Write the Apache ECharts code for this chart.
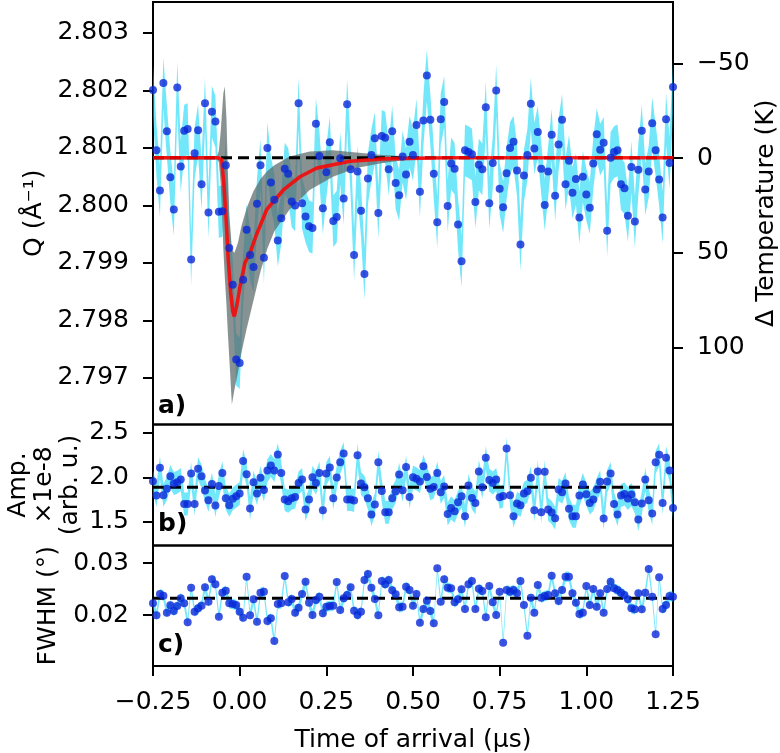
<!DOCTYPE html>
<html lang="en">
<head>
<meta charset="UTF-8">
<title>Peak position, amplitude and width vs time of arrival</title>
<script src="https://cdn.jsdelivr.net/npm/echarts@6/dist/echarts.min.js"></script>
<style>
  html, body { margin: 0; padding: 0; background: #fff; }
  #main { width: 780px; height: 753px; }
</style>
</head>
<body>
<div id="main"></div>
<script>
// time of arrival (µs), one bin every 10 ns
var times = [
  -0.25,-0.24,-0.23,-0.22,-0.21,-0.2,-0.19,-0.18,-0.17,-0.16,
  -0.15,-0.14,-0.13,-0.12,-0.11,-0.1,-0.09,-0.08,-0.07,-0.06,
  -0.05,-0.04,-0.03,-0.02,-0.01,0,0.01,0.02,0.03,0.04,
  0.05,0.06,0.07,0.08,0.09,0.1,0.11,0.12,0.13,0.14,
  0.15,0.16,0.17,0.18,0.19,0.2,0.21,0.22,0.23,0.24,
  0.25,0.26,0.27,0.28,0.29,0.3,0.31,0.32,0.33,0.34,
  0.35,0.36,0.37,0.38,0.39,0.4,0.41,0.42,0.43,0.44,
  0.45,0.46,0.47,0.48,0.49,0.5,0.51,0.52,0.53,0.54,
  0.55,0.56,0.57,0.58,0.59,0.6,0.61,0.62,0.63,0.64,
  0.65,0.66,0.67,0.68,0.69,0.7,0.71,0.72,0.73,0.74,
  0.75,0.76,0.77,0.78,0.79,0.8,0.81,0.82,0.83,0.84,
  0.85,0.86,0.87,0.88,0.89,0.9,0.91,0.92,0.93,0.94,
  0.95,0.96,0.97,0.98,0.99,1,1.01,1.02,1.03,1.04,
  1.05,1.06,1.07,1.08,1.09,1.1,1.11,1.12,1.13,1.14,
  1.15,1.16,1.17,1.18,1.19,1.2,1.21,1.22,1.23,1.24,
  1.25
];

// a) peak position Q (1/Å)
var qValues = [
  2.80201,2.80096,2.80026,2.80213,2.80129,2.80049,2.79993,2.80205,2.80068,2.8013,
  2.80133,2.79906,2.80091,2.80131,2.80037,2.80178,2.79988,2.80163,2.80146,2.79989,
  2.7999,2.8007,2.79926,2.79862,2.79732,2.79726,2.79871,2.79958,2.79914,2.79893,
  2.80003,2.8007,2.79909,2.801,2.8004,2.8001,2.79939,2.79978,2.80064,2.80055,
  2.80007,2.8,2.80178,2.80004,2.79981,2.79964,2.79961,2.80142,2.80086,2.79995,
  2.80058,2.8011,2.79973,2.7998,2.80082,2.80012,2.80176,2.80063,2.79914,2.80059,
  2.79991,2.79881,2.80047,2.80088,2.80117,2.79987,2.80121,2.80118,2.80063,2.80129,
  2.80039,2.80018,2.80085,2.80054,2.80111,2.80088,2.8014,2.80024,2.80148,2.80226,
  2.80149,2.80055,2.79971,2.8015,2.8018,2.79999,2.80073,2.80064,2.79967,2.79903,
  2.80096,2.80093,2.80089,2.80006,2.80071,2.80063,2.80171,2.80004,2.80074,2.802,
  2.80029,2.79997,2.80056,2.801,2.80111,2.80061,2.79932,2.80052,2.80088,2.80177,
  2.80099,2.80128,2.80064,2.80001,2.80059,2.80123,2.80017,2.80106,2.80149,2.80037,
  2.80078,2.80022,2.80046,2.79979,2.8005,2.80019,2.79996,2.80073,2.80124,2.80097,
  2.80109,2.79956,2.80083,2.80093,2.80096,2.80037,2.8003,2.79982,2.80067,2.79972,
  2.80062,2.8013,2.80028,2.80059,2.80143,2.80096,2.80045,2.79979,2.8015,2.80074,
  2.80206
];
var qErr = 0.00045;
var qBaseline = 2.80083;

// fitted curve and its uncertainty band
var fitTimes = [-0.25,-0.062,-0.052,-0.045,-0.039,-0.033,-0.026,-0.02,-0.0155,-0.009,
  0.001,0.015,0.03,0.049,0.078,0.126,0.174,0.222,0.318,0.414,0.49,0.6,1.25];
var fitQ = [2.80083,2.80083,2.8008,2.80033,2.79975,2.79906,2.79848,2.79816,2.79807,2.79824,
  2.79859,2.799,2.79918,2.7995,2.79993,2.80027,2.8005,2.80065,2.80077,2.80081,2.80082,2.80083,2.80083];
var bandTimes = [-0.25,-0.065,-0.06,-0.055,-0.05,-0.047,-0.043,-0.038,-0.034,-0.03,-0.0225,
  -0.015,-0.005,0.005,0.02,0.04,0.06,0.08,0.1,0.144,0.202,0.269,0.336,0.413,0.49,0.56,1.25];
var bandHigh = [2.80086,2.80086,2.80095,2.80126,2.8017,2.80195,2.80207,2.8015,2.8006,2.79987,2.79923,
  2.79918,2.79935,2.79964,2.79995,2.80025,2.80046,2.8006,2.8007,2.80085,2.80094,2.80096,2.80092,2.80088,2.80085,2.80084,2.80084];
var bandLow = [2.8008,2.8008,2.80075,2.8004,2.79975,2.79923,2.79876,2.79826,2.79778,2.79735,2.79654,
  2.7968,2.79709,2.79744,2.79785,2.79835,2.79885,2.79925,2.79955,2.79993,2.80027,2.8005,2.80065,2.80074,2.8008,2.80081,2.80082];

// b) amplitude (x1e-8, arb. u.)
var ampValues = [
  1.955,1.793,2.106,1.797,1.869,2.012,1.929,1.944,1.974,1.699,
  1.699,2.042,1.699,2.095,2.012,1.85,1.74,1.925,1.68,1.902,
  2.049,1.763,1.684,1.756,1.786,1.816,2.185,2.034,1.646,1.944,
  1.816,1.993,1.857,2.076,2.132,2.076,2.256,2.049,1.748,1.729,
  1.763,1.778,1.936,1.974,1.635,1.748,2.0,1.936,2.049,1.627,
  2.042,2.11,1.763,1.997,2.17,2.268,1.748,1.748,1.737,2.249,
  1.929,1.887,1.763,1.579,1.692,2.17,1.846,1.605,1.605,1.763,
  1.838,2.031,1.853,2.117,1.778,2.0,1.982,1.951,2.125,2.004,
  1.869,1.891,2.049,1.831,1.895,1.586,1.654,1.616,1.718,1.786,
  1.56,1.906,1.767,1.71,2.064,1.887,2.219,1.97,1.936,1.974,
  1.774,1.789,2.324,1.797,1.56,1.703,1.684,1.816,1.842,1.993,
  1.627,2.064,1.605,2.061,1.635,1.601,1.537,1.861,1.831,1.929,
  1.643,1.56,1.56,1.793,1.918,1.808,1.71,1.748,1.861,1.948,
  1.533,1.951,2.042,1.699,1.579,1.793,1.812,1.759,1.805,1.718,
  1.522,1.703,1.974,1.74,1.59,2.17,2.253,1.71,2.219,2.076,
  1.654
];
var ampErr = 0.13;
var ampMean = 1.887;

// c) FWHM (deg)
var fwhmValues = [
  0.02224,0.01994,0.02404,0.02372,0.02045,0.02186,0.02077,0.02173,0.02321,0.02224,
  0.01859,0.02526,0.02064,0.02128,0.02179,0.02532,0.02256,0.02686,0.0259,0.01968,
  0.02429,0.02468,0.02224,0.02212,0.02192,0.02064,0.01949,0.02737,0.01994,0.02301,
  0.01872,0.02429,0.02449,0.01885,0.01936,0.015,0.02212,0.02224,0.0275,0.02244,
  0.02308,0.02045,0.02141,0.02404,0.02641,0.02237,0.02,0.02288,0.02353,0.02032,
  0.0216,0.02173,0.02179,0.02635,0.02096,0.02321,0.02385,0.02532,0.02083,0.02,
  0.02064,0.02673,0.02788,0.02526,0.02308,0.01994,0.02654,0.0259,0.02673,0.02474,
  0.02397,0.02148,0.0216,0.02545,0.02481,0.02179,0.02404,0.01853,0.02115,0.02276,
  0.02077,0.0184,0.02897,0.02256,0.02686,0.02526,0.02513,0.02244,0.02301,0.02494,
  0.02115,0.0259,0.02654,0.02115,0.02506,0.02462,0.01955,0.02558,0.02244,0.02,
  0.02449,0.01468,0.02481,0.02449,0.02481,0.02417,0.02654,0.02192,0.01603,0.02333,
  0.02045,0.02577,0.02333,0.02365,0.02385,0.02756,0.02417,0.02269,0.02481,0.02737,
  0.02737,0.02417,0.02237,0.02019,0.02045,0.02558,0.02192,0.025,0.0216,0.02417,
  0.02045,0.025,0.02641,0.02513,0.02481,0.02429,0.02385,0.02301,0.02128,0.02109,
  0.02417,0.02109,0.02429,0.02885,0.02353,0.01628,0.02724,0.02115,0.02192,0.02365,
  0.02353
];
var fwhmErr = 0.001;
var fwhmMean = 0.0232;

// tick values
var xTicks = [-0.25, 0, 0.25, 0.5, 0.75, 1, 1.25];
var qTicks = [2.797, 2.798, 2.799, 2.8, 2.801, 2.802, 2.803];
var tempTicks = [-50, 0, 50, 100];
var ampTicks = [1.5, 2.0, 2.5];
var fwhmTicks = [0.02, 0.03];

var FONT = '"DejaVu Sans", sans-serif';
var DOT = '#0a28d8';
var CYAN = 'rgba(0, 212, 245, 0.55)';
var GREY = 'rgba(92, 104, 104, 0.72)';

function minus(s) { return s.replace('-', '\u2212'); }
function pairs(xs, ys) { return xs.map(function (x, i) { return [x, ys[i]]; }); }

// filled region between lo and hi, drawn through the axis scales
function band(xi, yi, xs, lo, hi, color, z) {
  return {
    type: 'custom', xAxisIndex: xi, yAxisIndex: yi, z: z, silent: true,
    data: [[xs[0], lo[0]]],
    renderItem: function (params, api) {
      var pts = [];
      for (var i = 0; i < xs.length; i++) pts.push(api.coord([xs[i], hi[i]]));
      for (var j = xs.length - 1; j >= 0; j--) pts.push(api.coord([xs[j], lo[j]]));
      return { type: 'polygon', shape: { points: pts }, style: { fill: color } };
    }
  };
}
function errBand(xi, yi, ys, err) {
  return band(xi, yi, times,
    ys.map(function (v) { return v - err; }),
    ys.map(function (v) { return v + err; }), CYAN, 2);
}
function dots(xi, yi, ys) {
  return { type: 'scatter', xAxisIndex: xi, yAxisIndex: yi, z: 6, symbolSize: 8,
    itemStyle: { color: DOT }, data: pairs(times, ys) };
}
function dashed(xi, yi, v) {
  return { type: 'line', xAxisIndex: xi, yAxisIndex: yi, z: 4, showSymbol: false, silent: true,
    lineStyle: { color: '#000', width: 3, type: [11, 6] },
    data: [[-0.25, v], [1.25, v]] };
}

var tickStyle = { show: true, inside: false, length: 10, lineStyle: { color: '#000', width: 2 } };
var labelStyle = { color: '#000', fontSize: 25, fontFamily: FONT };

function xAxis(gi, visible) {
  return {
    type: 'value', gridIndex: gi, min: -0.25, max: 1.25, interval: 0.25,
    axisLine: { show: false, onZero: false }, splitLine: { show: false },
    axisTick: visible ? Object.assign({ customValues: xTicks }, tickStyle) : { show: false },
    axisLabel: visible ? Object.assign({ margin: 24, customValues: xTicks,
      formatter: function (v) { return minus(v.toFixed(2)); } }, labelStyle) : { show: false },
    name: visible ? 'Time of arrival (\u00b5s)' : '', nameLocation: 'middle', nameGap: 62,
    nameMoveOverlap: false, nameTextStyle: labelStyle
  };
}
function yAxis(gi, opt) {
  return Object.assign({
    type: 'value', gridIndex: gi, position: 'left',
    axisLine: { show: false, onZero: false }, splitLine: { show: false },
    axisTick: Object.assign({ customValues: opt.ticks }, tickStyle),
    axisLabel: Object.assign({ margin: 24, customValues: opt.ticks,
      formatter: function (v) { return minus(v.toFixed(opt.digits)); } }, labelStyle),
    nameLocation: 'middle', nameRotate: 90, nameMoveOverlap: false,
    nameTextStyle: Object.assign({ lineHeight: 26 }, labelStyle)
  }, opt.extra);
}

var gridBox = { left: 153, right: 107, show: true, borderColor: '#000', borderWidth: 2,
  containLabel: false, outerBoundsMode: 'none' };

var chart = echarts.init(document.getElementById('main'));
chart.setOption({
  animation: false,
  backgroundColor: '#fff',
  grid: [
    Object.assign({ top: 2, height: 422.5 }, gridBox),
    Object.assign({ top: 424.5, height: 121 }, gridBox),
    Object.assign({ top: 545.5, height: 120.5 }, gridBox)
  ],
  xAxis: [xAxis(0, false), xAxis(1, false), xAxis(2, true)],
  yAxis: [
    yAxis(0, { ticks: qTicks, digits: 3, extra: { min: 2.796191, max: 2.803539,
      name: 'Q (\u00c5\u207b\u00b9)', nameGap: 106 } }),
    yAxis(0, { ticks: tempTicks, digits: 0, extra: { position: 'right', inverse: true,
      min: -82.4, max: 140.7, name: '\u0394 Temperature (K)', nameGap: 80 } }),
    yAxis(1, { ticks: ampTicks, digits: 1, extra: { min: 1.229, max: 2.596,
      name: 'Amp.\n\u00d71e-8\n(arb. u.)', nameGap: 70 } }),
    yAxis(2, { ticks: fwhmTicks, digits: 2, extra: { min: 0.01019, max: 0.03337,
      name: 'FWHM (\u00b0)', nameGap: 92 } })
  ],
  series: [
    errBand(0, 0, qValues, qErr),
    band(0, 0, bandTimes, bandLow, bandHigh, GREY, 3),
    dashed(0, 0, qBaseline),
    { type: 'line', xAxisIndex: 0, yAxisIndex: 0, z: 5, showSymbol: false, silent: true,
      lineStyle: { color: 'rgba(255, 0, 0, 0.85)', width: 3.6 }, data: pairs(fitTimes, fitQ) },
    dots(0, 0, qValues),

    errBand(1, 2, ampValues, ampErr),
    dashed(1, 2, ampMean),
    dots(1, 2, ampValues),

    errBand(2, 3, fwhmValues, fwhmErr),
    dashed(2, 3, fwhmMean),
    dots(2, 3, fwhmValues)
  ],
  graphic: [
    { type: 'text', x: 158, y: 406, z: 100, style: { text: 'a)', font: 'bold 25px ' + FONT, verticalAlign: 'middle', fill: '#000' } },
    { type: 'text', x: 158, y: 524, z: 100, style: { text: 'b)', font: 'bold 25px ' + FONT, verticalAlign: 'middle', fill: '#000' } },
    { type: 'text', x: 158, y: 645, z: 100, style: { text: 'c)', font: 'bold 25px ' + FONT, verticalAlign: 'middle', fill: '#000' } }
  ]
});
</script>
</body>
</html>
